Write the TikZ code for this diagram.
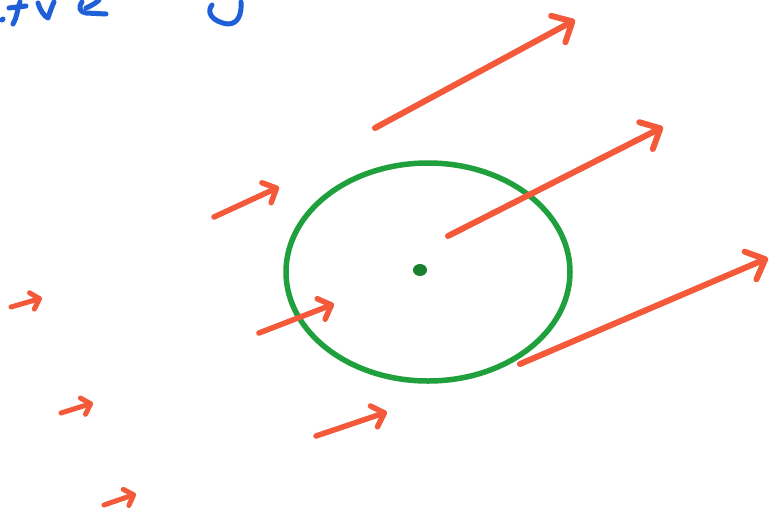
\documentclass[tikz,border=0pt]{standalone}
\usetikzlibrary{arrows.meta}
\definecolor{pen}{HTML}{F4593A}
\definecolor{grn}{HTML}{1FA03C}
\definecolor{blu}{HTML}{1F5FD8}
\tikzset{
  vec/.style={draw=pen, line width=6pt, line cap=round, line join=round,
    -{Straight Barb[length=16pt, width=30pt, line width=6pt, round]}},
  mvec/.style={draw=pen, line width=5.5pt, line cap=round, line join=round,
    -{Straight Barb[length=11pt, width=22pt, line width=5.5pt, round]}},
  svec/.style={draw=pen, line width=5pt, line cap=round, line join=round,
    -{Straight Barb[length=8pt, width=17pt, line width=5pt, round]}},
  inkb/.style={draw=blu, line width=5pt, line cap=round, line join=round}
}
\begin{document}
\begin{tikzpicture}[x=1pt,y=-1pt]
\useasboundingbox (0,0) rectangle (773,517);
\fill[white] (0,0) rectangle (773,517);
% blue handwriting fragments
\draw[inkb] (2,20) -- (3,19);
\draw[inkb] (20,2) .. controls (17,10) and (17,18) .. (13,24);
\draw[inkb] (9,8) -- (26,6);
\draw[inkb] (38,3) .. controls (40,10) and (44,16) .. (48,18) .. controls (50,12) and (52,6) .. (54,2);
\draw[inkb] (82,2) .. controls (78,8) and (80,12) .. (86,13) -- (106,14);
\draw[inkb] (86,8) .. controls (93,5) and (97,2) .. (99,0);
\draw[inkb] (212,5) .. controls (206,12) and (212,22) .. (228,24) .. controls (238,24) and (242,14) .. (241,2);
% green circle
\draw[grn, line width=5.5pt] (428,272) ellipse [x radius=142, y radius=109];
\fill[grn!80!black] (420,270) ellipse [x radius=7, y radius=6];
% large vectors
\coordinate (a1) at (375,128); \coordinate (b1) at (575,20);
\coordinate (a2) at (448,236); \coordinate (b2) at (663,127);
\coordinate (a3) at (520,364); \coordinate (b3) at (768,258);
\draw[vec] (a1) -- (b1);
\draw[vec] (a2) -- (b2);
\draw[vec] (a3) -- (b3);
% medium vectors
\coordinate (a4) at (214,217); \coordinate (b4) at (279,187);
\coordinate (a5) at (259,333); \coordinate (b5) at (334,304);
\coordinate (a6) at (316,436); \coordinate (b6) at (387,412);
\draw[mvec] (a4) -- (b4);
\draw[mvec] (a5) -- (b5);
\draw[mvec] (a6) -- (b6);
% small vectors
\coordinate (a7) at (11,307); \coordinate (b7) at (42,298);
\coordinate (a8) at (61,413); \coordinate (b8) at (93,403);
\coordinate (a9) at (104,505); \coordinate (b9) at (136,494);
\draw[svec] (a7) -- (b7);
\draw[svec] (a8) -- (b8);
\draw[svec] (a9) -- (b9);
\end{tikzpicture}
\end{document}
